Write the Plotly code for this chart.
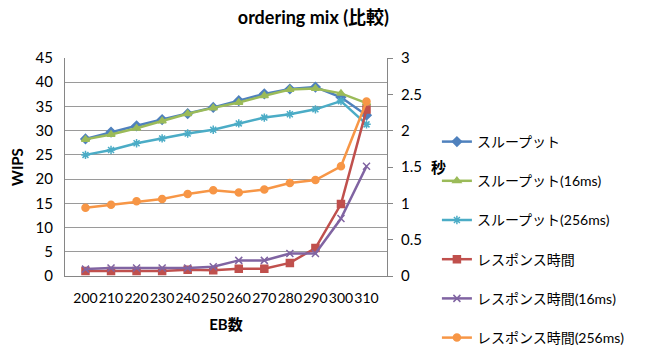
import plotly.graph_objects as go

eb = ["200", "210", "220", "230", "240", "250", "260", "270", "280", "290", "300", "310"]
thr = [28.3, 29.7, 31.0, 32.3, 33.5, 34.8, 36.2, 37.6, 38.6, 39.0, 36.9, 33.2]
thr16 = [28.2, 29.2, 30.5, 32.0, 33.5, 34.7, 35.8, 37.2, 38.5, 38.7, 37.7, 35.7]
thr256 = [25.0, 26.0, 27.4, 28.4, 29.4, 30.2, 31.5, 32.7, 33.4, 34.4, 36.1, 31.3]
resp = [0.07, 0.07, 0.07, 0.07, 0.085, 0.08, 0.10, 0.10, 0.18, 0.385, 0.99, 2.29]
resp16 = [0.095, 0.11, 0.11, 0.11, 0.11, 0.128, 0.215, 0.215, 0.31, 0.31, 0.79, 1.51]
resp256 = [0.94, 0.98, 1.03, 1.06, 1.13, 1.18, 1.15, 1.19, 1.28, 1.32, 1.51, 2.40]

names = ["スループット", "スループット(16ms)", "スループット(256ms)",
         "レスポンス時間", "レスポンス時間(16ms)", "レスポンス時間(256ms)"]
colors = ["#4F81BD", "#9BBB59", "#4BACC6", "#C0504D", "#8064A2", "#F79646"]
symbols = ["diamond", "triangle-up", "asterisk-open", "square", "x-thin-open", "circle"]
series = [thr, thr16, thr256, resp, resp16, resp256]
axes = ["y", "y", "y", "y2", "y2", "y2"]

FONT = "Lato, Noto Sans CJK JP"

fig = go.Figure()
for i, (nm, col, sym, data, ax) in enumerate(zip(names, colors, symbols, series, axes)):
    fig.add_trace(go.Scatter(
        x=eb, y=data, name=nm, yaxis=ax, mode="lines+markers",
        legendgroup=f"g{i}",
        line=dict(color=col, width=2.5),
        marker=dict(symbol=sym, size=7, color=col,
                    line=dict(color=col, width=1.5)),
    ))

fig.update_layout(
    width=653, height=345,
    margin=dict(l=65, r=266, t=58, b=69, autoexpand=False),
    paper_bgcolor="white", plot_bgcolor="white",
    font=dict(family=FONT, size=14, color="black"),
    title=dict(text="<b>ordering mix (比較)</b>", x=0.48, xanchor="center", y=0.95,
               yanchor="middle", font=dict(size=18, family=FONT)),
    showlegend=True,
    legend=dict(x=1.155, xanchor="left", y=1 - 126 / 345, yanchor="top",
                yref="container", traceorder="grouped", tracegroupgap=18,
                maxheight=340,
                font=dict(size=14, family=FONT),
                bgcolor="rgba(0,0,0,0)"),
    xaxis=dict(type="category", showgrid=False, showline=True, linecolor="#868686",
               ticks="", tickfont=dict(size=14), tickangle=0, ticklabelstandoff=9,
               title=dict(text="<b>EB数</b>", font=dict(size=15), standoff=14)),
    yaxis=dict(range=[0, 45], dtick=5, showgrid=True, gridcolor="#9A9A9A", gridwidth=1,
               showline=True, linecolor="#868686", ticks="", zeroline=False,
               tickfont=dict(size=15), ticklabelstandoff=8,
               title=dict(text="<b>WIPS</b>", font=dict(size=15), standoff=8)),
    yaxis2=dict(range=[0, 3], dtick=0.5, overlaying="y", side="right", showgrid=False,
                showline=True, linecolor="#868686", ticks="outside", ticklen=5,
                tickcolor="#868686", zeroline=False, tickfont=dict(size=15),
                ticklabelstandoff=5),
)
fig.add_annotation(text="<b>秒</b>", xref="paper", yref="paper", x=1.16,
                   y=0.5, showarrow=False, font=dict(size=15, family=FONT), xanchor="center")

fig.write_html("out.html")
